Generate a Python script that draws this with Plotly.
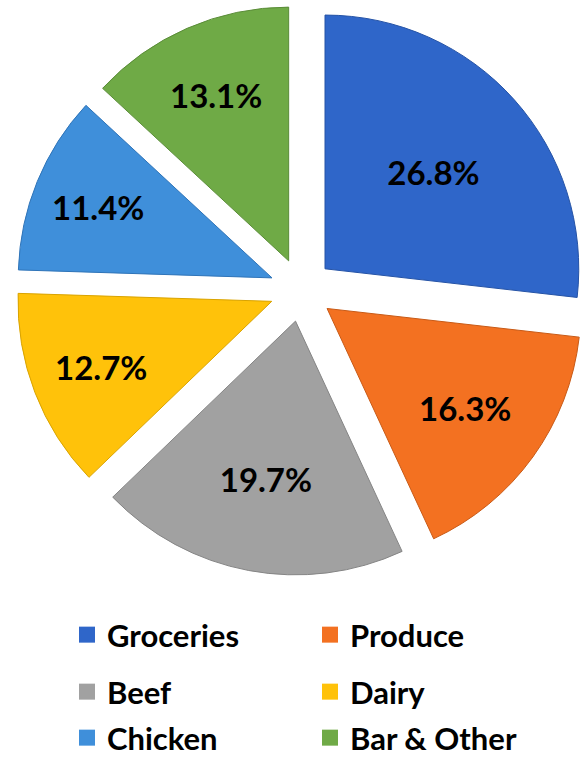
import plotly.graph_objects as go

# Spending share by category
categories = ["Groceries", "Produce", "Beef", "Dairy", "Chicken", "Bar & Other"]
shares = [26.8, 16.3, 19.7, 12.7, 11.4, 13.1]
labels_text = ["26.8%", "16.3%", "19.7%", "12.7%", "11.4%", "13.1%"]
colors = ["#2F66C9", "#F37121", "#A1A1A1", "#FFC20A", "#3F8FDA", "#6FAA46"]
edge_colors = ["#2553A6", "#C85A16", "#858585", "#D9A300", "#2F74B8", "#5A8C38"]
legend_rows = ["legend", "legend", "legend2", "legend2", "legend3", "legend3"]

FONT = "Lato"

fig = go.Figure()

fig.add_trace(go.Pie(
    labels=categories,
    values=shares,
    text=labels_text,
    textinfo="text",
    textposition="inside",
    insidetextorientation="horizontal",
    textfont=dict(family=FONT, size=33, color="black", weight="bold"),
    marker=dict(colors=colors, line=dict(color=edge_colors, width=1)),
    pull=[0.125] * len(categories),
    sort=False,
    direction="clockwise",
    rotation=0,
    showlegend=False,
    hoverinfo="label+percent",
    domain=dict(x=[0.027, 0.998], y=[0.246, 0.996]),
))

# Legend entries as square swatches, two per row
for name, col, lg in zip(categories, colors, legend_rows):
    fig.add_trace(go.Scatter(
        x=[None], y=[None], mode="markers", name=name,
        marker=dict(symbol="square", size=20, color=col),
        showlegend=True, hoverinfo="skip", legend=lg,
    ))

legend_style = dict(
    orientation="h",
    x=67 / 588, xanchor="left",
    entrywidth=198, entrywidthmode="pixels",
    itemsizing="trace",
    font=dict(family=FONT, size=31, color="black", weight="bold"),
    traceorder="normal",
    bgcolor="rgba(0,0,0,0)",
)

fig.update_layout(
    width=588, height=765,
    margin=dict(l=0, r=0, t=0, b=0),
    paper_bgcolor="white",
    plot_bgcolor="white",
    xaxis=dict(visible=False),
    yaxis=dict(visible=False),
    legend=dict(legend_style, y=1 - 635 / 765, yanchor="middle"),
    legend2=dict(legend_style, y=1 - 692 / 765, yanchor="middle"),
    legend3=dict(legend_style, y=0, yanchor="bottom"),
)

fig.write_html("out.html")
